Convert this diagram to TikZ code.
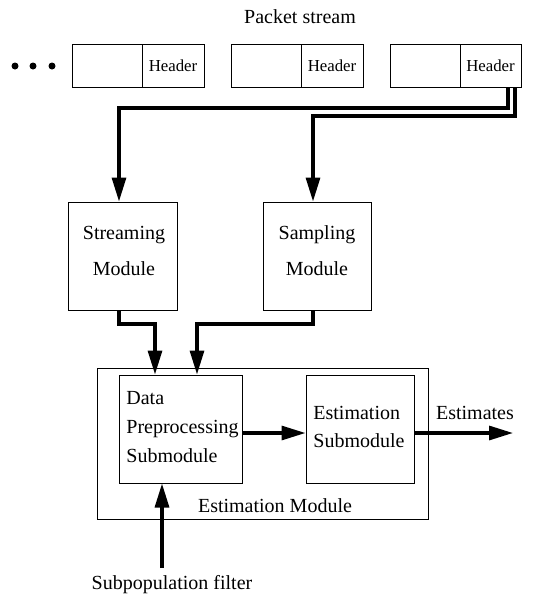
\documentclass[tikz,border=0pt]{standalone}
\usepackage{fontspec}
\setmainfont{Liberation Serif}
\usetikzlibrary{arrows.meta,calc}
\begin{document}
\begin{tikzpicture}[x=0.5pt,y=-0.5pt,
  box/.style={draw,line width=0.5pt,inner sep=0pt,rectangle},
  txt/.style={inner sep=0pt,font=\fontsize{10}{12}\selectfont},
  hdr/.style={box,font=\fontsize{8.4}{10}\selectfont},
  arr/.style={line width=1.6pt,-{Triangle[length=12pt,width=7pt]}},
  dotc/.style={fill=black,draw=none}]
\useasboundingbox (0,0) rectangle (545,595);
% packet stream
\node[txt] (ps) at (300,17) {Packet stream};
\fill[dotc] (15,66) circle[radius=1.75pt];
\fill[dotc] (33,66) circle[radius=1.75pt];
\fill[dotc] (52,66) circle[radius=1.75pt];
\node[box,minimum width=35pt,minimum height=21.5pt] (b1) at (107,65.5) {};
\node[hdr,minimum width=31pt,minimum height=21.5pt] (h1) at (173,65.5) {Header};
\node[box,minimum width=35pt,minimum height=21.5pt] (b2) at (266,65.5) {};
\node[hdr,minimum width=31pt,minimum height=21.5pt] (h2) at (332,65.5) {Header};
\node[box,minimum width=35pt,minimum height=21.5pt] (b3) at (425,65.5) {};
\node[hdr,minimum width=30.5pt,minimum height=21.5pt] (h3) at (490.5,65.5) {Header};
% modules
\node[box,minimum width=54.5pt,minimum height=54pt] (stream) at (122.5,256) {};
\node[txt,align=center,font=\fontsize{10}{18}\selectfont] (streamt) at (124,251) {Streaming\\Module};
\node[box,minimum width=54pt,minimum height=54pt] (samp) at (317,256) {};
\node[txt,align=center,font=\fontsize{10}{18}\selectfont] (sampt) at (317,251) {Sampling\\Module};
% estimation module
\node[box,minimum width=165.5pt,minimum height=75.5pt] (em) at (262.5,443.5) {};
\node[txt] (emt) at (275,506) {Estimation Module};
\node[box,minimum width=61.5pt,minimum height=54pt] (dp) at (180.5,429) {};
\node[txt,align=left,anchor=west,font=\fontsize{10}{14.5}\selectfont] (dpt) at (126,427) {Data\\Preprocessing\\Submodule};
\node[box,minimum width=54pt,minimum height=54pt] (es) at (360,429) {};
\node[txt,align=left,anchor=west,font=\fontsize{10}{14}\selectfont] (est) at (313,427) {Estimation\\Submodule};
\node[txt] (estim) at (475,413) {Estimates};
\node[txt] (sub) at (172,585) {Subpopulation filter};
% connectors
\coordinate (j1) at (119,108);
\coordinate (j2) at (313,116);
\coordinate (a1) at (119,324);
\coordinate (a2) at (155,324);
\coordinate (c1) at (313,324);
\coordinate (c2) at (197,324);
\coordinate (out) at (513,433);
\coordinate (sf) at (162,568);
\draw[arr] ($(h3.south)+(17.5,0)$) |- (j1) -- (j1 |- stream.north);
\draw[arr] ($(h3.south)+(24.5,0)$) |- (j2) -- (j2 |- samp.north);
\draw[arr] (j1 |- stream.south) -- (a1) -- (a2) -- (a2 |- dp.north);
\draw[arr] (j2 |- samp.south) -- (c1) -- (c2) -- (c2 |- dp.north);
\draw[arr] ($(dp.east)+(0,4)$) -- ($(es.west)+(0,4)$);
\draw[arr] ($(es.east)+(0,4)$) -- (out);
\draw[arr] (sf) -- (sf |- dp.south);
\end{tikzpicture}
\end{document}
